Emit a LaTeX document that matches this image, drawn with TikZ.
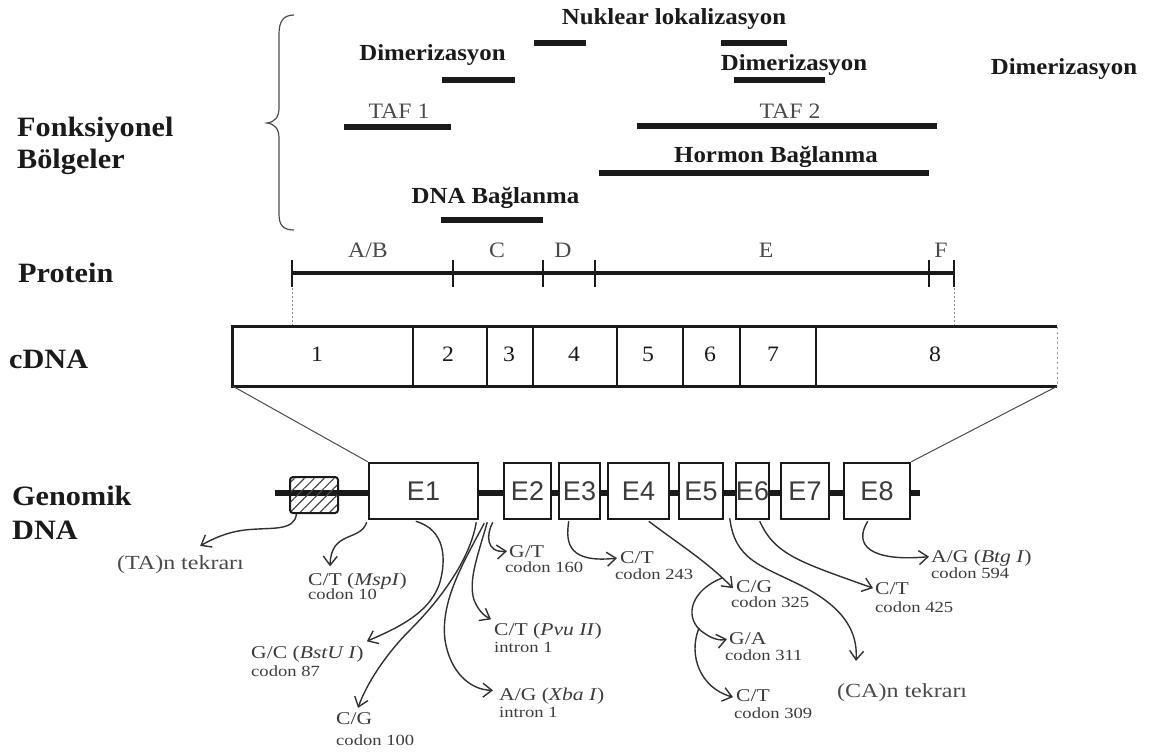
\documentclass[tikz,border=0pt]{standalone}
\usepackage{fontspec}
\setmainfont{Liberation Serif}
\newfontfamily\serifwide{Liberation Serif}[FakeStretch=1.08]
\newfontfamily\serifsmall{Liberation Serif}[FakeStretch=1.2]
\newfontfamily\sansex{Liberation Sans}
\usetikzlibrary{arrows.meta,patterns.meta,calc}
\newcommand{\fBig}{\serifwide\bfseries\fontsize{28}{32}\selectfont}
\newcommand{\fBold}{\serifwide\bfseries\fontsize{23}{26}\selectfont}
\newcommand{\fReg}{\serifwide\fontsize{22}{24}\selectfont}
\newcommand{\fMut}{\serifsmall\fontsize{18}{20}\selectfont}
\newcommand{\fCod}{\serifsmall\fontsize{15.5}{17}\selectfont}
\newcommand{\fRep}{\serifsmall\fontsize{20}{22}\selectfont}
\newcommand{\fEx}{\sansex\fontsize{27}{30}\selectfont}
\definecolor{ink}{HTML}{1A1A1A}
\definecolor{greytxt}{HTML}{4A4A4A}
\begin{document}
\begin{tikzpicture}[x=1pt,y=-1pt,
  side/.style={font=\fBig, inner sep=0pt, anchor=base west, text=ink},
  blbl/.style={font=\fBold, inner sep=0pt, anchor=base, text=ink},
  rlbl/.style={font=\fReg, inner sep=0pt, anchor=base, text=greytxt},
  bar/.style={line width=6.5pt, draw=ink},
  tick/.style={line width=2.5pt, draw=ink},
  guide/.style={line width=0.8pt, draw=black!45, dash pattern=on 2pt off 2pt},
  thin/.style={line width=1pt, draw=black!70},
  exon/.style={draw=ink, line width=2.5pt, fill=white, inner sep=0pt, minimum height=56, font=\fEx, text=ink!85},
  mut/.style={font=\fMut, inner sep=0pt, anchor=base west, text=ink!85},
  cod/.style={font=\fCod, inner sep=0pt, anchor=base west, text=ink!85},
  rep/.style={font=\fRep, inner sep=0pt, anchor=base west, text=greytxt},
  arr/.style={line width=1.4pt, draw=ink!90, -{Straight Barb[length=9pt,width=14pt,line width=1.4pt]}},
]
\useasboundingbox (0,0) rectangle (1154,753);

% ---------- Functional regions ----------
\node[side] (fonk) at (17,136) {Fonksiyonel};
\node[side] (bolg) at (17,168) {Bölgeler};
\draw[line width=1.2pt, draw=black!70] (294,15) .. controls (283,15) and (279,22) .. (279,34) -- (279,108)
  .. controls (279,117) and (275,122) .. (267,123) .. controls (275,124) and (279,129) .. (279,138)
  -- (279,214) .. controls (279,225) and (283,230) .. (294,230);

\node[blbl] (nuk) at (674,24) {Nuklear lokalizasyon};
\draw[bar] (534,43) -- (586,43);
\draw[bar] (721,43) -- (787,43);
\node[blbl] (dim1) at (432.5,60) {Dimerizasyon};
\draw[bar] (442,80) -- (515,80);
\node[blbl] (dim2) at (794,70) {Dimerizasyon};
\draw[bar] (734,80) -- (825,80);
\node[blbl] (dim3) at (1064,74) {Dimerizasyon};
\node[rlbl] (taf1) at (399,118) {TAF 1};
\draw[bar] (344,127) -- (451,127);
\node[rlbl] (taf2) at (790,118) {TAF 2};
\draw[bar] (637,126) -- (937,126);
\node[blbl] (horm) at (776,162) {Hormon Bağlanma};
\draw[bar] (599,173) -- (929,173);
\node[blbl] (dnab) at (495.5,203) {DNA Bağlanma};
\draw[bar] (441,220) -- (543,220);

% ---------- Protein ----------
\node[side] (prot) at (18,282) {Protein};
\draw[line width=3.5pt, draw=ink] (292,273) -- (954,273);
\foreach \x in {292,453,543,595,929,954} \draw[tick] (\x,260) -- (\x,287);
\node[rlbl] (pab) at (368,257) {A/B};
\node[rlbl] (pc) at (497,257) {C};
\node[rlbl] (pd) at (563,257) {D};
\node[rlbl] (pe) at (766,257) {E};
\node[rlbl] (pf) at (941,257) {F};
\draw[guide] (292,288) -- (292,327);
\draw[guide] (954,288) -- (954,327);

% ---------- cDNA ----------
\node[side] (cdnal) at (9,368) {cDNA};
\node[minimum width=824, minimum height=59, inner sep=0pt] (cdna) at (645,356.5) {};
\draw[line width=3pt, draw=ink] (cdna.north east) -- (cdna.north west) -- (cdna.south west) -- (cdna.south east);
\draw[line width=0.8pt, draw=black!40, dash pattern=on 2pt off 3pt] (cdna.north east) -- (cdna.south east);
\foreach \x in {413,487,533,617,683,740,816} \draw[line width=2.5pt, draw=ink] (\x,327) -- (\x,386);
\foreach \x/\t in {317/1,448/2,509/3,574/4,648/5,710/6,773/7,935/8}
  \node[rlbl, text=ink] at (\x,361) {\t};

% ---------- Genomic DNA ----------
\node[side] (genl) at (12,505) {Genomik};
\node[side] (genl2) at (12,539) {DNA};
\draw[line width=5.5pt, draw=ink] (275,493) -- (920,493);
\node[draw=ink, line width=2pt, rounded corners=3pt, fill=white,
      pattern={Lines[angle=45,distance=7pt,line width=1.2pt]}, pattern color=ink!80,
      minimum width=48, minimum height=36, inner sep=0pt] (rep) at (314,495) {};
\node[exon, minimum width=109] (E1) at (423.5,491) {E1};
\node[exon, minimum width=47] (E2) at (527.5,491) {E2};
\node[exon, minimum width=41] (E3) at (579.5,491) {E3};
\node[exon, minimum width=61] (E4) at (638.5,491) {E4};
\node[exon, minimum width=44] (E5) at (701,491) {E5};
\node[exon, minimum width=33] (E6) at (752.5,491) {E6};
\node[exon, minimum width=48] (E7) at (805,491) {E7};
\node[exon, minimum width=66] (E8) at (877,491) {E8};

\draw[thin] (cdna.south west) -- (E1.north west);
\draw[thin] (cdna.south east) -- (E8.north east);

% ---------- Mutation labels ----------
\node[rep] (ta) at (117,569) {(TA)n tekrarı};
\node[mut] (msp) at (308,585) {C/T (\textit{MspI})};
\node[cod] at (308,599) {codon 10};
\node[mut] (bst) at (251,658) {G/C (\textit{BstU I})};
\node[cod] at (251,676) {codon 87};
\node[mut] (cg100) at (336,724) {C/G};
\node[cod] at (336,745) {codon 100};
\node[mut] (pvu) at (494,635) {C/T (\textit{Pvu II})};
\node[cod] at (494,652) {intron 1};
\node[mut] (xba) at (499,700) {A/G (\textit{Xba I})};
\node[cod] at (499,717) {intron 1};
\node[mut] (gt) at (509,557) {G/T};
\node[cod] at (505,572) {codon 160};
\node[mut] (ct243) at (620,563) {C/T};
\node[cod] at (615,579) {codon 243};
\node[mut] (cg325) at (736,592) {C/G};
\node[cod] at (731,607) {codon 325};
\node[mut] (ga311) at (729,644) {G/A};
\node[cod] at (725,660) {codon 311};
\node[mut] (ct309) at (736,701) {C/T};
\node[cod] at (734,718) {codon 309};
\node[rep] (ca) at (837,697) {(CA)n tekrarı};
\node[mut] (ct425) at (875,594) {C/T};
\node[cod] at (875,612) {codon 425};
\node[mut] (btg) at (931,562) {A/G (\textit{Btg I})};
\node[cod] at (931,578) {codon 594};

% ---------- Arrows ----------
\draw[arr] ($(rep.south west)+(7,0)$) .. controls (295,532) and (270,527) .. (245,530)
   .. controls (228,532) and (214,538) .. ($(ta.north east)+(-44,-9)$);
\draw[arr] ($(E1.south west)+(-1,2)$) .. controls (360,542) and (331,530) .. ($(msp.north west)+(22,-6)$);
\draw[arr] ($(E1.south west)+(48,1)$) .. controls (446,530) and (446,560) .. (440,582)
   .. controls (430,615) and (392,630) .. ($(bst.north east)+(3,-4)$);
\draw[arr] ($(E1.south east)+(-3,2)$) .. controls (470,560) and (440,600) .. (410,630)
   .. controls (385,655) and (366,685) .. ($(cg100.north west)+(22,-4)$);
\draw[arr] ($(E1.south east)+(8,2)$) .. controls (478,555) and (468,580) .. (474,600)
   .. controls (479,612) and (485,616) .. ($(pvu.north west)+(-3,-3)$);
\draw[arr] ($(E1.south east)+(5,3)$) .. controls (465,560) and (440,600) .. (445,640)
   .. controls (450,672) and (470,690) .. ($(xba.north west)+(-6,3)$);
\draw[arr] ($(E2.south west)+(-10,2)$) .. controls (486,535) and (486,553) .. ($(gt.west)+(-2,0)$);
\draw[arr] ($(E3.south west)+(11,1)$) .. controls (565,545) and (570,563) .. ($(ct243.west)+(-3,1)$);
\draw[arr] ($(E4.south west)+(42,1)$) .. controls (680,545) and (705,560) .. ($(cg325.west)+(-3,2)$);
\coordinate (gasrc) at (722,578);
\draw[arr] (gasrc) .. controls (692,590) and (684,615) .. (700,630)
   .. controls (710,638) and (718,641) .. ($(ga311.west)+(-2,1)$);
\coordinate (ctsrc) at (699,628);
\draw[arr] (ctsrc) .. controls (688,655) and (700,688) .. ($(ct309.west)+(-3,2)$);
\draw[arr] ($(E6.south west)+(-5,-2)$) .. controls (735,560) and (760,565) .. (800,585)
   .. controls (842,606) and (858,630) .. ($(ca.north west)+(19,-22)$);
\draw[arr] ($(E6.south west)+(25,1)$) .. controls (775,555) and (800,562) .. ($(ct425.west)+(-2,0)$);
\draw[arr] ($(E8.south west)+(25,1)$) .. controls (853,545) and (870,562) .. ($(btg.west)+(-2,-1)$);
\end{tikzpicture}
\end{document}
